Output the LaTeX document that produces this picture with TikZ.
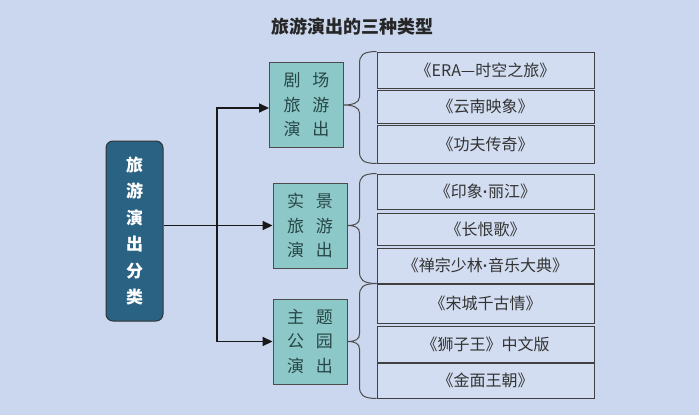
\documentclass[tikz,border=0pt]{standalone}
\usepackage{fontspec}
\setmainfont{Noto Sans CJK SC}
\newfontfamily\dotf{Liberation Sans}
\newcommand\middot{{\dotf\bfseries ·}}
\usetikzlibrary{arrows.meta,calc}
\definecolor{bg}{HTML}{CAD7EE}
\definecolor{rfill}{HTML}{D2DDF1}
\definecolor{mfill}{HTML}{8CC8C8}
\definecolor{lfill}{HTML}{2A6283}
\definecolor{txt}{HTML}{333333}
\definecolor{mtxt}{HTML}{284646}
\newcommand\groupbrace[3]{% top node, bottom node, tip node
  \draw[brc] (#1.north west) .. controls +(-14,0) and +(0,-8) .. ($(#1.north west)+(-17,12)$)
    -- ($(#3.east -| #1.west)+(-17,-8)$) .. controls +(0,6) and +(8,0) .. (#3.east)
    .. controls +(8,0) and +(0,-6) .. ($(#3.east -| #1.west)+(-17,8)$)
    -- ($(#2.south west)+(-17,-12)$) .. controls +(0,8) and +(-14,0) .. (#2.south west);
}
\begin{document}
\begin{tikzpicture}[x=1pt,y=-1pt,
  rbox/.style={draw=black!75, line width=0.9pt, fill=rfill, minimum width=217pt, inner sep=0pt, font=\fontsize{16}{18}\selectfont, text=txt},
  mbox/.style={draw=black!70, line width=0.9pt, fill=mfill, minimum width=74pt, minimum height=85pt, inner sep=0pt, align=center, font=\fontsize{17}{24.5}\selectfont, text=mtxt},
  arr/.style={line width=1.6pt, draw=black!90, -{Triangle[length=10pt,width=9pt]}},
  brc/.style={line width=1pt, draw=black!70}]
\fill[bg] (0,0) rectangle (699,415);
\useasboundingbox (0,0) rectangle (699,415);

\node[font=\fontsize{18}{20}\selectfont\bfseries, text=black!85] (title) at (352,27) {旅游演出的三种类型};

\node[draw=black!80, line width=1pt, fill=lfill, rounded corners=7pt, minimum width=57pt, minimum height=180pt, inner sep=0pt, align=center, text=white, font=\fontsize{17}{26.5}\selectfont\bfseries] (root) at (134.5,231) {旅\\游\\演\\出\\分\\类};

\node[mbox] (m1) at (306.5,105) {剧\hspace{12pt}场\\旅\hspace{12pt}游\\演\hspace{12pt}出};
\node[mbox] (m2) at (310,225.5) {实\hspace{12pt}景\\旅\hspace{12pt}游\\演\hspace{12pt}出};
\node[mbox] (m3) at (310,341.5) {主\hspace{12pt}题\\公\hspace{12pt}园\\演\hspace{12pt}出};

\node[rbox, minimum height=36pt] (r11) at (485.5,70) {《ERA—时空之旅》};
\node[rbox, minimum height=33pt] (r12) at (485.5,106.5) {《云南映象》};
\node[rbox, minimum height=38pt] (r13) at (485.5,144) {《功夫传奇》};
\node[rbox, minimum height=35pt] (r21) at (485.5,191.5) {《印象\middot 丽江》};
\node[rbox, minimum height=32pt] (r22) at (485.5,229) {《长恨歌》};
\node[rbox, minimum height=35pt] (r23) at (485.5,265.5) {《禅宗少林\middot 音乐大典》};
\node[rbox, minimum height=39pt] (r31) at (485.5,303.5) {《宋城千古情》};
\node[rbox, minimum height=36pt] (r32) at (485.5,344) {《狮子王》中文版};
\node[rbox, minimum height=35pt] (r33) at (485.5,380.5) {《金面王朝》};

\groupbrace{r11}{r13}{m1}
\groupbrace{r21}{r23}{m2}
\groupbrace{r31}{r33}{m3}

\coordinate (jn) at (217,225.5);
\draw[line width=1.6pt, draw=black!90] (root.east |- jn) -- (jn);
\draw[arr] (jn) |- ($(m1.west)+(0,3)$);
\draw[arr] (jn) -- (m2.west);
\draw[arr] (jn) |- (m3.west);
\end{tikzpicture}
\end{document}
